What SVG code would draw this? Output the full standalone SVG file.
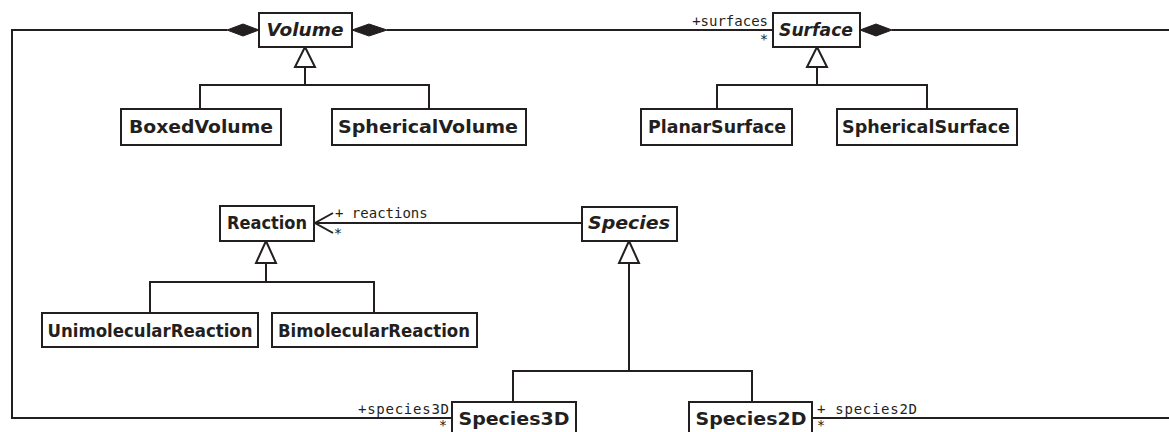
<svg xmlns="http://www.w3.org/2000/svg" width="1169" height="432" viewBox="0 0 1169 432">
<style>
.box{fill:#fff;stroke:#231f20;stroke-width:2}
.ln{fill:none;stroke:#231f20;stroke-width:2}
.cn{font-family:"DejaVu Sans",sans-serif;font-weight:bold;font-size:18px;fill:#231f20;text-anchor:middle}
.ab{font-style:italic}
.lb{font-family:"DejaVu Sans Mono",monospace;font-size:14px;fill:#231f20}
</style>
<rect width="1169" height="432" fill="#fff"/>
<g id="connectors">
<polyline class="ln" points="227,30 12,30 12,418 452,418"/>
<line class="ln" x1="387" y1="30" x2="773" y2="30"/>
<line class="ln" x1="892" y1="30" x2="1170" y2="30"/>
<line class="ln" x1="812" y1="418" x2="1170" y2="418"/>
<path d="M227,30 L243,24 L259,30 L243,36 Z" fill="#231f20" stroke="#231f20" stroke-width="1"/>
<path d="M352,30 L369,24 L387,30 L369,36 Z" fill="#231f20" stroke="#231f20" stroke-width="1"/>
<path d="M860,30 L876,24 L892,30 L876,36 Z" fill="#231f20" stroke="#231f20" stroke-width="1"/>
<line class="ln" x1="315" y1="223" x2="582" y2="223"/>
<polyline class="ln" points="333,213 315,223 333,233"/>
<path class="ln" d="M305,67 V85 M200,109 V85 H429 V109"/>
<path d="M305,47 L315,67 L295,67 Z" fill="#fff" stroke="#231f20" stroke-width="2"/>
<path class="ln" d="M817,67 V85 M717,109 V85 H927 V109"/>
<path d="M817,47 L827,67 L807,67 Z" fill="#fff" stroke="#231f20" stroke-width="2"/>
<path class="ln" d="M266,263 V282 M150,313 V282 H374 V313"/>
<path d="M266,241 L276,263 L256,263 Z" fill="#fff" stroke="#231f20" stroke-width="2"/>
<path class="ln" d="M629,263 V371 M513,402 V371 H752 V402"/>
<path d="M629,241 L639,263 L619,263 Z" fill="#fff" stroke="#231f20" stroke-width="2"/>
<text class="lb" x="768" y="26" text-anchor="end">+surfaces</text>
<text class="lb" x="764" y="44" text-anchor="middle">*</text>
<text class="lb" x="335" y="218">+ reactions</text>
<text class="lb" x="338" y="238" text-anchor="middle">*</text>
<text class="lb" x="449" y="414" text-anchor="end" textLength="91">+species3D</text>
<text class="lb" x="443" y="430" text-anchor="middle">*</text>
<text class="lb" x="817" y="414" textLength="100">+ species2D</text>
<text class="lb" x="821" y="430" text-anchor="middle">*</text>
</g>
<g id="Volume"><rect class="box" x="259" y="13" width="93" height="34"/><text class="cn ab" x="305" y="36" textLength="77" lengthAdjust="spacingAndGlyphs">Volume</text></g>
<g id="Surface"><rect class="box" x="773" y="13" width="87" height="34"/><text class="cn ab" x="816" y="36" textLength="74" lengthAdjust="spacingAndGlyphs">Surface</text></g>
<g id="BoxedVolume"><rect class="box" x="121" y="109" width="160" height="36"/><text class="cn" x="201" y="133" textLength="144" lengthAdjust="spacingAndGlyphs">BoxedVolume</text></g>
<g id="SphericalVolume"><rect class="box" x="332" y="109" width="194" height="36"/><text class="cn" x="428" y="133" textLength="180" lengthAdjust="spacingAndGlyphs">SphericalVolume</text></g>
<g id="PlanarSurface"><rect class="box" x="641" y="109" width="151" height="36"/><text class="cn" x="717" y="133" textLength="138" lengthAdjust="spacingAndGlyphs">PlanarSurface</text></g>
<g id="SphericalSurface"><rect class="box" x="837" y="109" width="180" height="36"/><text class="cn" x="926" y="133" textLength="168" lengthAdjust="spacingAndGlyphs">SphericalSurface</text></g>
<g id="Reaction"><rect class="box" x="220" y="206" width="94" height="35"/><text class="cn" x="267" y="229" textLength="80" lengthAdjust="spacingAndGlyphs">Reaction</text></g>
<g id="Species"><rect class="box" x="582" y="207" width="95" height="34"/><text class="cn ab" x="629" y="229" textLength="82" lengthAdjust="spacingAndGlyphs">Species</text></g>
<g id="UnimolecularReaction"><rect class="box" x="42" y="313" width="216" height="34"/><text class="cn" x="150" y="337" textLength="205" lengthAdjust="spacingAndGlyphs">UnimolecularReaction</text></g>
<g id="BimolecularReaction"><rect class="box" x="272" y="313" width="205" height="34"/><text class="cn" x="374" y="337" textLength="192" lengthAdjust="spacingAndGlyphs">BimolecularReaction</text></g>
<g id="Species3D"><rect class="box" x="452" y="402" width="124" height="38"/><text class="cn" x="514" y="425" textLength="111" lengthAdjust="spacingAndGlyphs">Species3D</text></g>
<g id="Species2D"><rect class="box" x="689" y="402" width="123" height="38"/><text class="cn" x="751" y="425" textLength="111" lengthAdjust="spacingAndGlyphs">Species2D</text></g>
</svg>
